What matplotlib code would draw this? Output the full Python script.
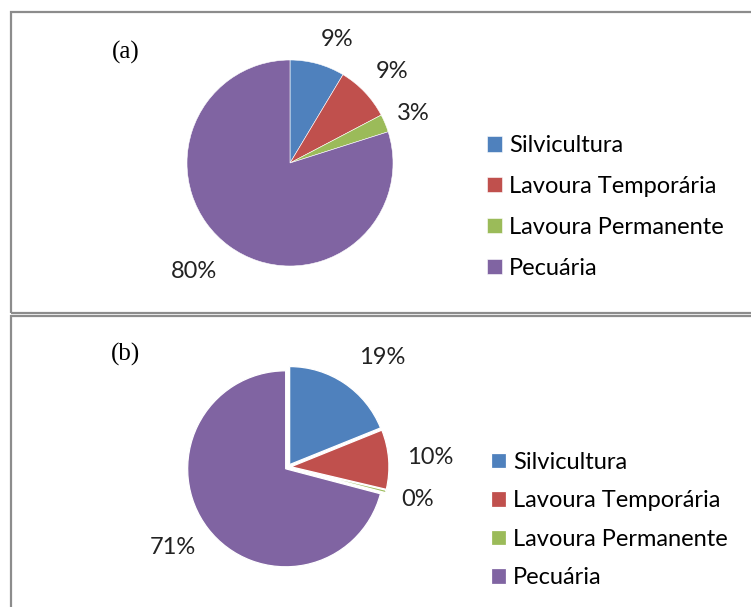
import matplotlib.pyplot as plt
from matplotlib.patches import Rectangle

categorias = ['Silvicultura', 'Lavoura Temporária', 'Lavoura Permanente', 'Pecuária']
valores_a = [8.6, 8.7, 2.8, 79.9]
valores_b = [18.9, 9.8, 0.4, 70.9]
rotulos_a = ['9%', '9%', '3%', '80%']
rotulos_b = ['19%', '10%', '0%', '71%']
paineis = ['(a)', '(b)']

cores = ['#4F81BD', '#C0504D', '#9BBB59', '#8064A2']

W, H = 751, 607
FONTE = 'Lato'
TAM = 17


def px_axes(fig, cx, cy, r):
    # eixos quadrados centrados em (cx, cy) em pixels, origem no topo
    return fig.add_axes([(cx - r) / W, (H - cy - r) / H, 2 * r / W, 2 * r / H])


def plot_pizza(fig, valores, cx, cy, r, explode=None):
    ax = px_axes(fig, cx, cy, r)
    wedges, _ = ax.pie(valores, colors=cores, startangle=90, counterclock=False,
                       explode=explode, radius=1.0,
                       wedgeprops=dict(edgecolor='white', linewidth=0.9 if explode else 0.4))
    ax.set_xlim(-1.04, 1.04)
    ax.set_ylim(-1.04, 1.04)
    ax.set_axis_off()
    return ax, wedges


def rotular(fig, rotulos, posicoes):
    for txt, (x, y) in zip(rotulos, posicoes):
        fig.text(x / W, 1 - y / H, txt, ha='center', va='center',
                 fontsize=TAM, family=FONTE, color='#222222')


def legenda(fig, wedges, x, y, esp):
    fig.legend(wedges, categorias, loc='center left',
               bbox_to_anchor=(x / W, 1 - y / H), frameon=False,
               borderpad=0, borderaxespad=0,
               prop=dict(family=FONTE, size=TAM), handlelength=0.62,
               handleheight=0.62, handletextpad=0.3, labelspacing=esp)


fig = plt.figure(figsize=(W / 100, H / 100), dpi=100)

# molduras
fig.add_artist(Rectangle((11 / W, 1 - 313 / H), 745 / W, 301 / H,
                         transform=fig.transFigure, fill=False,
                         edgecolor='#8c8c8c', linewidth=1.6))
fig.add_artist(Rectangle((11 / W, -0.01), 745 / W, 1 - 316 / H + 0.01,
                         transform=fig.transFigure, fill=False,
                         edgecolor='#8c8c8c', linewidth=1.6))

# (a)
ax_a, w_a = plot_pizza(fig, valores_a, 290, 163, 103 * 1.04)
rotular(fig, rotulos_a, [(337, 40), (392, 72), (413, 113), (194, 272)])
fig.text(126 / W, 1 - 52 / H, paineis[0], ha='center', va='center',
         fontsize=18, family='Liberation Serif')
legenda(fig, w_a, 487, 207, 0.84)

# (b)
ax_b, w_b = plot_pizza(fig, valores_b, 288, 467, 98 * 1.04,
                       explode=[0.03] * 4)
rotular(fig, rotulos_b, [(382, 358), (430, 458), (418, 499), (173, 547)])
fig.text(126 / W, 1 - 354 / H, paineis[1], ha='center', va='center',
         fontsize=18, family='Liberation Serif')
legenda(fig, w_b, 491, 520, 0.74)

fig.savefig('out.png', dpi=100)
